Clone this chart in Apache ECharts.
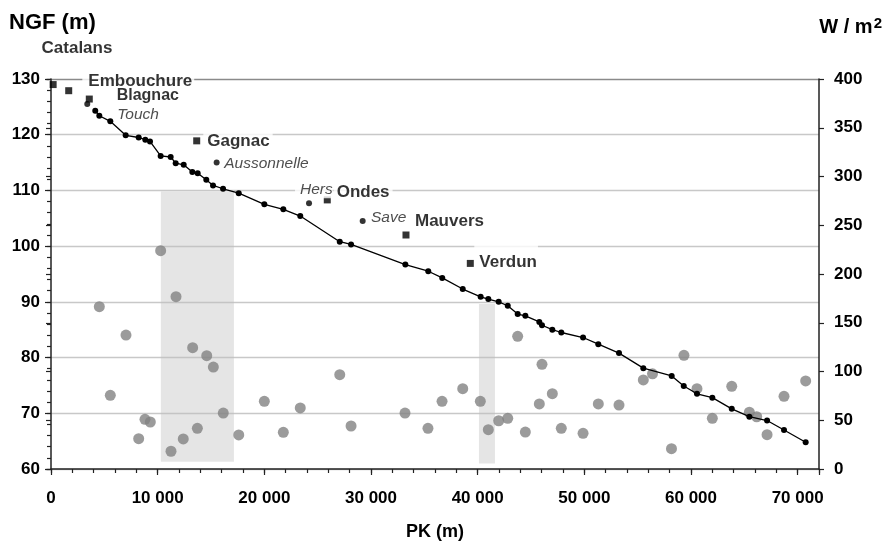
<!DOCTYPE html>
<html>
<head>
<meta charset="utf-8">
<script src="https://cdn.jsdelivr.net/npm/echarts@6/dist/echarts.min.js"></script>
<style>html,body{margin:0;padding:0;background:#fff}#c{width:886px;height:547px}</style>
</head>
<body>
<div id="c"></div>
<script>
// ---- DATA ----
const pkProfile = [4150,4530,5560,7000,8220,8840,9280,10280,11220,11690,12440,13250,13750,14560,15190,16130,17600,20000,21780,23370,27070,28130,33220,35370,36680,38600,40280,41000,41970,42820,43750,44470,45780,46030,47000,47840,49880,51310,53250,55530,58190,59320,60560,62000,63820,65470,67130,68720,70750];
const ngfProfile = [124.3,123.4,122.4,119.9,119.5,119.1,118.8,116.2,116.0,114.9,114.6,113.3,113.1,111.9,110.9,110.3,109.5,107.5,106.6,105.4,100.8,100.3,96.7,95.5,94.3,92.3,90.9,90.5,90.0,89.3,87.8,87.5,86.4,85.8,85.0,84.5,83.6,82.4,80.8,78.1,76.7,74.9,73.5,72.8,70.8,69.4,68.7,67.0,64.8];

const stationNames = ['Catalans','Embouchure','Blagnac','Gagnac','Ondes','Mauvers','Verdun'];
const stationPk    = [200,1660,3590,13660,25900,33280,39310];
const stationNgf   = [129.0,127.9,126.4,118.9,108.3,102.0,96.9];

const tribNames = ['Touch','Aussonnelle','Hers','Save'];
const tribPk    = [3400,15530,24190,29220];
const tribNgf   = [125.5,115.0,107.7,104.5];

const fluxPk = [4530,5560,7030,8220,8810,9310,10280,11250,11720,12400,13280,13720,14600,15220,16150,17600,20000,21780,23370,27070,28130,33190,35340,36660,38600,40250,41000,41970,42820,43750,44470,45780,46030,47000,47840,49880,51310,53250,55530,56390,58170,59340,60560,62000,63820,65470,66160,67130,68720,70750];
const fluxW  = [166.5,75.6,137.4,31.1,51.0,48.2,223.9,18.2,176.7,30.8,124.4,41.7,116.2,104.6,57.4,34.9,69.4,37.6,62.6,96.7,44.1,57.4,41.7,69.4,82.4,69.4,40.3,49.5,52.0,136.1,37.9,66.7,107.4,77.2,41.7,36.6,66.7,65.6,91.3,97.6,20.8,116.6,82.4,52.0,84.8,58.2,53.6,35.2,74.6,90.3];

// shaded PK ranges [pkStart, pkEnd, ngfTop, ngfBottom]
const bands = [[10300,17150,109.8,61.3],[40120,41620,89.6,61.0]];

const xTickLabels = ['0','10 000','20 000','30 000','40 000','50 000','60 000','70 000'];

// ---- STYLE ----
const FONT = '"Liberation Sans", Arial, sans-serif';
const labelLayout = {
  'Catalans':   {offset:[-15.1,-36.3]},
  'Embouchure': {offset:[10.1,-9.7], padding:[3,2,3,6], bg:'#fff'},
  'Blagnac':    {offset:[23.9,-3.8], size:16},
  'Gagnac':     {offset:[3.1,0], padding:[2,3,2,4], bg:'#fff'},
  'Ondes':      {offset:[2.9,-7.4], padding:[2,3,2,3], bg:'#fff'},
  'Mauvers':    {offset:[5.5,-13.3]},
  'Verdun':     {offset:[0.5,-1], padding:[9,1,9,5], bg:'#fff'},
  'Touch':      {offset:[27,10.3]},
  'Aussonnelle':{offset:[4.6,0.7]},
  'Hers':       {offset:[-17,-14], padding:[1,0,1,5], bg:'#fff'},
  'Save':       {offset:[5.3,-3]}
};
function mkLabel(name, italic){
  const l = labelLayout[name] || {offset:[0,0]};
  return {
    show:true, position:'right', distance:0, formatter:name,
    offset:l.offset, padding:l.padding||0, backgroundColor:l.bg||'transparent',
    fontFamily:FONT, fontSize: italic ? 15.5 : (l.size||17),
    fontWeight: italic ? 'normal' : 'bold', fontStyle: italic ? 'italic' : 'normal',
    color: italic ? '#222' : '#000'
  };
}

const profileData = pkProfile.map((x,i)=>[x, ngfProfile[i]]);
const stationData = stationNames.map((n,i)=>({name:n, value:[stationPk[i], stationNgf[i]], label:mkLabel(n,false)}));
const tribData = tribNames.map((n,i)=>({name:n, value:[tribPk[i], tribNgf[i]], label:mkLabel(n,true)}));
const fluxData = fluxPk.map((x,i)=>[x, fluxW[i]]);

// split line colours for left axis (interval 2): visible only every 10 m, top darker
const splitColors = [];
for (let v=60; v<=130; v+=2){
  if ((v-60)%10!==0) splitColors.push('rgba(0,0,0,0)');
  else if (v===130) splitColors.push('#8a8a8a');
  else splitColors.push('#c8c8c8');
}

const axisLbl = {fontFamily:FONT, fontSize:17, fontWeight:'bold', color:'#000'};
const chart = echarts.init(document.getElementById('c'), null, {renderer:'canvas'});
chart.setOption({
  animation:false,
  backgroundColor:'#fff',
  grid:{left:51, right:67, top:79, bottom:78, containLabel:false},
  title:[
    {text:'NGF (m)', left:9, top:12, padding:0, textStyle:{fontFamily:FONT, fontSize:22, fontWeight:'bold', color:'#000'}},
    {text:'W / m{s|2}', right:4, top:16, padding:0,
     textStyle:{fontFamily:FONT, fontSize:20, fontWeight:'bold', color:'#000',
       rich:{s:{fontFamily:FONT, fontSize:15, fontWeight:'bold', color:'#000', verticalAlign:'top', padding:[0,0,8,1]}}}}
  ],
  xAxis:[
    {type:'value', min:0, max:72000, interval:2000,
     axisLine:{show:true, onZero:false, lineStyle:{color:'#222', width:1.5}},
     axisTick:{show:true, inside:false, length:4, lineStyle:{color:'#222', width:1.2}},
     axisLabel:Object.assign({margin:21, showMaxLabel:true,
       formatter:v=> (v%10000===0 ? xTickLabels[v/10000] : '')}, axisLbl),
     splitLine:{show:false},
     name:'PK (m)', nameLocation:'middle', nameGap:54,
     nameTextStyle:{fontFamily:FONT, fontSize:18, fontWeight:'bold', color:'#000'}},
    {type:'value', min:0, max:72000, interval:10000, position:'bottom',
     axisLine:{show:false}, axisLabel:{show:false}, splitLine:{show:false},
     axisTick:{show:true, inside:false, length:6, lineStyle:{color:'#222', width:1.2}}}
  ],
  yAxis:[
    {type:'value', position:'left', min:60, max:130, interval:2,
     axisLine:{show:true, onZero:false, lineStyle:{color:'#222', width:1.5}},
     axisTick:{show:true, inside:false, length:4, lineStyle:{color:'#222', width:1.2}},
     axisLabel:Object.assign({margin:11, formatter:v=> ((v-60)%10===0 ? String(v) : '')}, axisLbl),
     splitLine:{show:true, lineStyle:{color:splitColors, width:1.3}}},
    {type:'value', position:'right', min:0, max:400, interval:50,
     axisLine:{show:true, onZero:false, lineStyle:{color:'#222', width:1.5}},
     axisTick:{show:true, inside:false, length:5, lineStyle:{color:'#222', width:1.2}},
     axisLabel:Object.assign({margin:15}, axisLbl),
     splitLine:{show:false}},
    {type:'value', position:'right', min:0, max:400, interval:50,
     axisLine:{show:false}, axisLabel:{show:false}, splitLine:{show:false},
     axisTick:{show:true, inside:true, length:5, lineStyle:{color:'#222', width:1.2}}},
    {type:'value', position:'left', min:60, max:130, interval:10,
     axisLine:{show:false}, axisLabel:{show:false}, splitLine:{show:false},
     axisTick:{show:true, inside:false, length:6, lineStyle:{color:'#222', width:1.2}}}
  ],
  series:[
    {name:'flux', type:'scatter', xAxisIndex:0, yAxisIndex:1, data:fluxData, z:2,
     symbol:'circle', symbolSize:11, itemStyle:{color:'#828282'},
     markArea:{silent:true, itemStyle:{color:'rgba(190,190,190,0.4)'},
       data: bands.map(b=>[{coord:[b[0], (b[2]-60)/70*400]},{coord:[b[1], (b[3]-60)/70*400]}])}},
    {name:'profil', type:'line', xAxisIndex:0, yAxisIndex:0, data:profileData, z:3,
     symbol:'circle', symbolSize:6, showAllSymbol:true,
     lineStyle:{color:'#000', width:1.3}, itemStyle:{color:'#000'}},
    {name:'stations', type:'scatter', xAxisIndex:0, yAxisIndex:0, data:stationData, z:4,
     symbol:'rect', symbolSize:7, itemStyle:{color:'#000'}},
    {name:'affluents', type:'scatter', xAxisIndex:0, yAxisIndex:0, data:tribData, z:4,
     symbol:'circle', symbolSize:6, itemStyle:{color:'#000'}}
  ]
});
</script>
</body>
</html>
